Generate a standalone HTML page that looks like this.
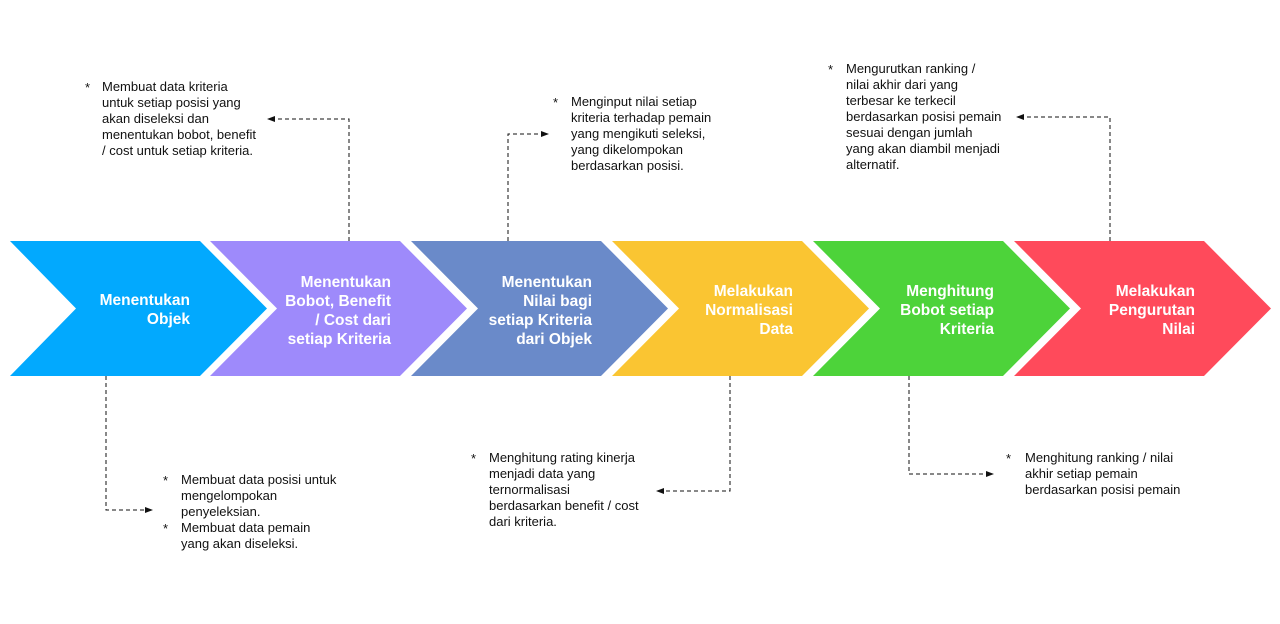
<!DOCTYPE html>
<html><head><meta charset="utf-8"><style>
html,body{margin:0;padding:0;background:#fff;}
svg{display:block;}
.t{font-family:"Liberation Sans",Arial,sans-serif;font-size:13px;fill:#111;}
.h{font-family:"Liberation Sans",Arial,sans-serif;font-size:15.5px;font-weight:bold;fill:#fff;text-anchor:end;}
.d{stroke:#111;stroke-width:1;fill:none;stroke-dasharray:4,3;}
</style></head><body>
<svg width="1280" height="624" viewBox="0 0 1280 624" xmlns="http://www.w3.org/2000/svg">
<defs><marker id="a" markerWidth="8" markerHeight="8" refX="7" refY="4" orient="auto" markerUnits="userSpaceOnUse"><path d="M0,1 L8,4 L0,7 z" fill="#111"/></marker></defs>
<g>
<polygon points="10,241 200,241 267,308.5 200,376 10,376 76,308.5" fill="#02A9FE"/>
<polygon points="210,241 400,241 467,308.5 400,376 210,376 277,308.5" fill="#9E8AFB"/>
<polygon points="411,241 601,241 668,308.5 601,376 411,376 478,308.5" fill="#6A8AC9"/>
<polygon points="612,241 802,241 869,308.5 802,376 612,376 679,308.5" fill="#FAC532"/>
<polygon points="813,241 1003,241 1070,308.5 1003,376 813,376 880,308.5" fill="#4DD33A"/>
<polygon points="1014,241 1204,241 1271,308.5 1204,376 1014,376 1081,308.5" fill="#FF4A5B"/>
</g>
<text class="h"><tspan x="190" y="305">Menentukan</tspan><tspan x="190" y="324">Objek</tspan></text>
<text class="h"><tspan x="391" y="287">Menentukan</tspan><tspan x="391" y="306">Bobot, Benefit</tspan><tspan x="391" y="325">/ Cost dari</tspan><tspan x="391" y="344">setiap Kriteria</tspan></text>
<text class="h"><tspan x="592" y="287">Menentukan</tspan><tspan x="592" y="306">Nilai bagi</tspan><tspan x="592" y="325">setiap Kriteria</tspan><tspan x="592" y="344">dari Objek</tspan></text>
<text class="h"><tspan x="793" y="296">Melakukan</tspan><tspan x="793" y="315">Normalisasi</tspan><tspan x="793" y="334">Data</tspan></text>
<text class="h"><tspan x="994" y="296">Menghitung</tspan><tspan x="994" y="315">Bobot setiap</tspan><tspan x="994" y="334">Kriteria</tspan></text>
<text class="h"><tspan x="1195" y="296">Melakukan</tspan><tspan x="1195" y="315">Pengurutan</tspan><tspan x="1195" y="334">Nilai</tspan></text>

<polyline class="d" points="349,241 349,119 268,119" marker-end="url(#a)"/>
<polyline class="d" points="508,241 508,134 548,134" marker-end="url(#a)"/>
<polyline class="d" points="1110,241 1110,117 1017,117" marker-end="url(#a)"/>
<polyline class="d" points="106,376 106,510 152,510" marker-end="url(#a)"/>
<polyline class="d" points="730,376 730,491 657,491" marker-end="url(#a)"/>
<polyline class="d" points="909,376 909,474 993,474" marker-end="url(#a)"/>

<text class="t"><tspan x="85" y="92">*</tspan><tspan x="102" y="91">Membuat data kriteria</tspan><tspan x="102" y="107">untuk setiap posisi yang</tspan><tspan x="102" y="123">akan diseleksi dan</tspan><tspan x="102" y="139">menentukan bobot, benefit</tspan><tspan x="102" y="155">/ cost untuk setiap kriteria.</tspan></text>
<text class="t"><tspan x="553" y="107">*</tspan><tspan x="571" y="106">Menginput nilai setiap</tspan><tspan x="571" y="122">kriteria terhadap pemain</tspan><tspan x="571" y="138">yang mengikuti seleksi,</tspan><tspan x="571" y="154">yang dikelompokan</tspan><tspan x="571" y="170">berdasarkan posisi.</tspan></text>
<text class="t"><tspan x="828" y="74">*</tspan><tspan x="846" y="73">Mengurutkan ranking /</tspan><tspan x="846" y="89">nilai akhir dari yang</tspan><tspan x="846" y="105">terbesar ke terkecil</tspan><tspan x="846" y="121">berdasarkan posisi pemain</tspan><tspan x="846" y="137">sesuai dengan jumlah</tspan><tspan x="846" y="153">yang akan diambil menjadi</tspan><tspan x="846" y="169">alternatif.</tspan></text>
<text class="t"><tspan x="163" y="485">*</tspan><tspan x="181" y="484">Membuat data posisi untuk</tspan><tspan x="181" y="500">mengelompokan</tspan><tspan x="181" y="516">penyeleksian.</tspan><tspan x="163" y="533">*</tspan><tspan x="181" y="532">Membuat data pemain</tspan><tspan x="181" y="548">yang akan diseleksi.</tspan></text>
<text class="t"><tspan x="471" y="463">*</tspan><tspan x="489" y="462">Menghitung rating kinerja</tspan><tspan x="489" y="478">menjadi data yang</tspan><tspan x="489" y="494">ternormalisasi</tspan><tspan x="489" y="510">berdasarkan benefit / cost</tspan><tspan x="489" y="526">dari kriteria.</tspan></text>
<text class="t"><tspan x="1006" y="463">*</tspan><tspan x="1025" y="462">Menghitung ranking / nilai</tspan><tspan x="1025" y="478">akhir setiap pemain</tspan><tspan x="1025" y="494">berdasarkan posisi pemain</tspan></text>
</svg>
</body></html>
